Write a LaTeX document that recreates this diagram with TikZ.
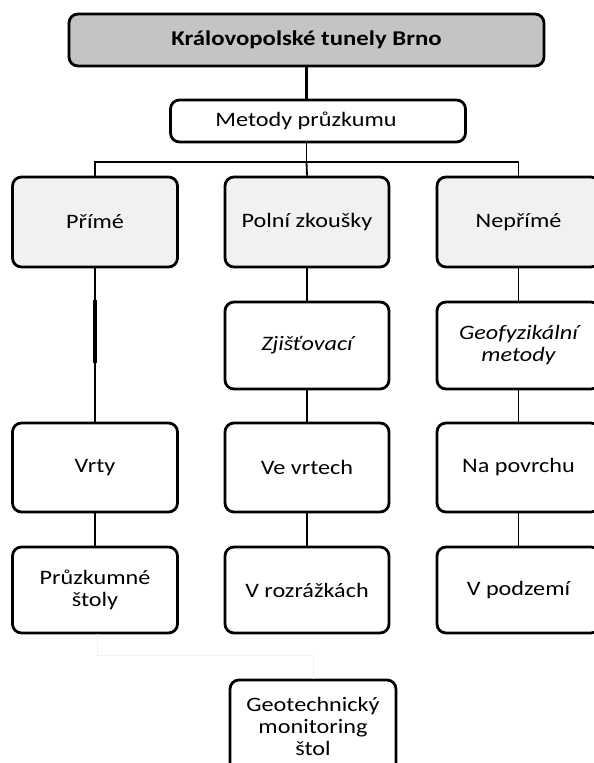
\documentclass[tikz,border=0pt]{standalone}
\usepackage{fontspec}
\setmainfont{Carlito}[FakeStretch=1.18]
\definecolor{titlegray}{HTML}{C4C4C4}
\definecolor{lightfill}{HTML}{F1F1F1}
\definecolor{faint}{HTML}{F2F2F2}
\tikzset{
  box/.style={draw, line width=2.8pt, rounded corners=9pt, fill=white, align=center,
    inner sep=0pt, font=\fontsize{20.5}{22}\selectfont},
  colA/.style={box, minimum width=165pt},
  colB/.style={box, minimum width=164pt},
  colC/.style={box, minimum width=163pt},
  conn/.style={line width=1.8pt},
}
\begin{document}
\begin{tikzpicture}[x=1pt,y=-1pt]
\useasboundingbox (0,0) rectangle (594,763);
\clip (0,0) rectangle (594,763);
% top
\node[box, fill=titlegray, minimum width=475pt, minimum height=52pt,
  font=\fontsize{21}{22}\selectfont\bfseries] (top) at (306.5,40) {Královopolské tunely Brno};
\node[box, minimum width=295pt, minimum height=42pt] (met) at (318,121) {Metody průzkumu\hspace*{24pt}};
% row 1
\node[colA, fill=lightfill, minimum height=90pt] (prime) at (95,222) {Přímé};
\node[colB, fill=lightfill, minimum height=90pt] (polni) at (307,222) {Polní zkoušky};
\node[colC, fill=lightfill, minimum height=90pt] (neprime) at (518.5,222) {Nepřímé};
% row 2
\node[colB, minimum height=87pt] (zjist) at (307,345.5) {\itshape Zjišťovací};
\node[colC, minimum height=87pt] (geof) at (518.5,345.5) {\itshape Geofyzikální\\\itshape metody};
% row 3
\node[colA, minimum height=89pt] (vrty) at (95,467.5) {Vrty};
\node[colB, minimum height=89pt] (vevrt) at (307,467.5) {Ve vrtech};
\node[colC, minimum height=89pt] (napov) at (518.5,467.5) {Na povrchu};
% row 4
\node[colA, minimum height=86pt] (stoly) at (95,590) {Průzkumné\\štoly};
\node[colB, minimum height=86pt] (rozraz) at (307,590) {V rozrážkách};
\node[colC, minimum height=86pt] (podzem) at (518.5,590) {V podzemí};
% bottom
\node[box, minimum width=166pt, minimum height=92pt] (geomon) at (313,726) {Geotechnický\\monitoring\\štol};
% connectors
\draw[line width=3.8pt] (top.south) -- (top.south |- met.north);
\coordinate (bar) at (306.5,162);
\draw[conn] (met.south -| bar) -- (bar);
\draw[conn] (prime.north) |- (bar) -| (neprime.north);
\draw[conn] (bar) -- (polni.north);
\draw[conn] (prime.south) -- (vrty.north);
\coordinate (thA) at (95,300);
\coordinate (thB) at (95,363);
\draw[line width=4.5pt] (thA) -- (thB);
\draw[conn] (vrty.south) -- (stoly.north);
\draw[conn] (polni.south) -- (zjist.north);
\draw[conn] (zjist.south) -- (vevrt.north);
\draw[conn] (vevrt.south) -- (rozraz.north);
\draw[conn] (neprime.south) -- (geof.north);
\draw[conn] (geof.south) -- (napov.north);
\draw[conn] (napov.south) -- (podzem.north);
\coordinate (fk) at (97,655);
\draw[faint, line width=0.8pt] (stoly.south -| fk) -- (fk) -| (geomon.north);
\end{tikzpicture}
\end{document}
